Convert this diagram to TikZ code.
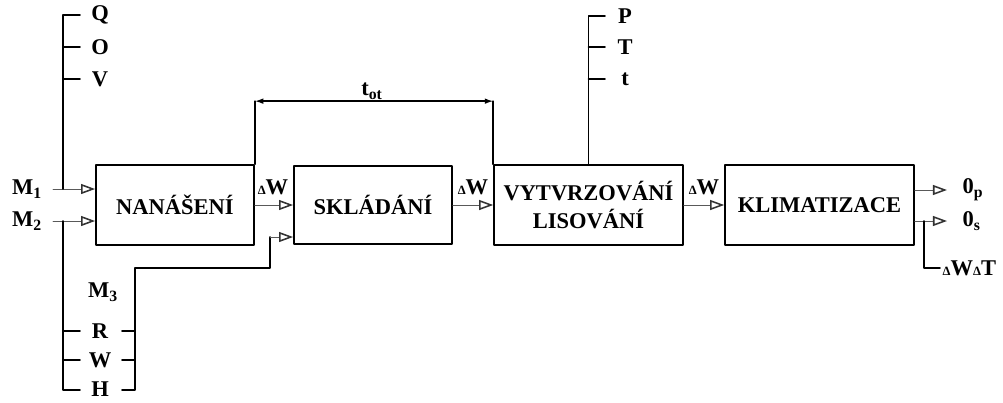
\documentclass[tikz,border=0pt]{standalone}
\usepackage{fontspec}
\setmainfont{Liberation Serif}
\usetikzlibrary{arrows.meta,calc}

\newcommand{\malaDelta}{{\fontsize{9}{10}\selectfont Δ}}

\tikzset{
  blok/.style={draw, line width=1.2pt, minimum height=2cm, inner sep=2pt,
    align=center, font=\bfseries\fontsize{16}{20}\selectfont},
  signal/.style={gray!70!black, line width=0.6pt,
    -{Triangle[open, length=10pt, width=7pt, line width=1.1pt, color=black!80]}},
  vetev/.style={line width=1.2pt},
  lbl/.style={font=\bfseries\fontsize{16}{18}\selectfont, inner sep=1pt}
}

\begin{document}
\begin{tikzpicture}[x=0.025cm, y=-0.025cm, line join=round, line cap=round]

% Rozmer obrazku
\useasboundingbox (0,0) rectangle (1003,402);

% Bloky
\node[blok, minimum width=3.95cm] (nanaseni) at (175,205) {NANÁŠENÍ};
\node[blok, minimum width=3.95cm, minimum height=1.95cm] (skladani) at (373,205) {SKLÁDÁNÍ};
\node[blok, minimum width=4.72cm] (vytvrz) at (588.5,205) {VYTVRZOVÁNÍ\\LISOVÁNÍ};
\node[blok, minimum width=4.72cm] (klima) at (819.5,205) {KLIMATIZACE};

% Vstupy M1, M2
\node[lbl] (m1) at (27,189) {M\textsubscript{1}};
\node[lbl] (m2) at (27,221) {M\textsubscript{2}};
\coordinate (m1s) at (53,189);
\coordinate (m2s) at (53,221);
\draw[signal] (m1s) -- (m1s -| nanaseni.west);
\draw[signal] (m2s) -- (m2s -| nanaseni.west);

% Parametry Q, O, V
\draw[vetev] (63,189) -- (63,15) -- (80,15);
\foreach \y in {47,79}
  \draw[vetev] (63,\y) -- (80,\y);
\node[lbl] (q) at (100,15) {Q};
\node[lbl] (o) at (100,47) {O};
\node[lbl] (v) at (100,79) {V};

% Parametry R, W, H
\draw[vetev] (63,221) -- (63,390) -- (80,390);
\foreach \y in {331,360}
  \draw[vetev] (63,\y) -- (80,\y);
\node[lbl] (r) at (100,331) {R};
\node[lbl] (w) at (100,360) {W};
\node[lbl] (h) at (100,389) {H};
\foreach \y in {331,360}
  \draw[vetev] (122,\y) -- (135,\y);

% Vstup M3
\node[lbl] (m3) at (103,292) {M\textsubscript{3}};
\coordinate (m3z) at (270,237);
\draw[vetev] (122,390) -- (135,390) -- (135,268) -- (270,268) -- (m3z);
\draw[signal] (m3z) -- (m3z -| skladani.west);

% Toky mezi bloky
\draw[signal] (nanaseni.east) -- (skladani.west);
\draw[signal] (skladani.east) -- (vytvrz.west);
\draw[signal] (vytvrz.east) -- (klima.west);
\node[lbl] (dw1) at (273,187) {\malaDelta W};
\node[lbl] (dw2) at (473,187) {\malaDelta W};
\node[lbl] (dw3) at (704,187) {\malaDelta W};

% Doba t_ot
\coordinate (ot1) at ($(nanaseni.north east)+(0,-63)$);
\coordinate (ot2) at ($(vytvrz.north west)+(0,-63)$);
\draw[vetev] (nanaseni.north east) -- (ot1);
\draw[vetev] (vytvrz.north west) -- (ot2);
\draw[line width=1pt, {Latex[length=6pt,width=4pt]}-{Latex[length=6pt,width=4pt]}] (ot1) -- (ot2);
\node[lbl] (tot) at (372,91) {t\textsubscript{ot}};

% Parametry p, T, t
\draw[vetev] (vytvrz.north) -- (588.5,16) -- (605,16);
\foreach \y in {47,79}
  \draw[vetev] (588.5,\y) -- (605,\y);
\node[lbl] (p) at (625,16) {P};
\node[lbl] (tt) at (625,47) {T};
\node[lbl] (tc) at (625,79) {t};

% Vystupy
\coordinate (op) at (947,190);
\coordinate (os) at (947,221);
\draw[signal] (op -| klima.east) -- (op);
\draw[signal] (os -| klima.east) -- (os);
\node[lbl, anchor=west] (vp) at (961,190) {0\textsubscript{p}};
\node[lbl, anchor=west] (vs) at (961,221) {0\textsubscript{s}};
\draw[vetev] (924,221) -- (924,268) -- (940,268);
\node[lbl, anchor=west] (dwdt) at (941,268) {\malaDelta W\malaDelta T};

\end{tikzpicture}
\end{document}
